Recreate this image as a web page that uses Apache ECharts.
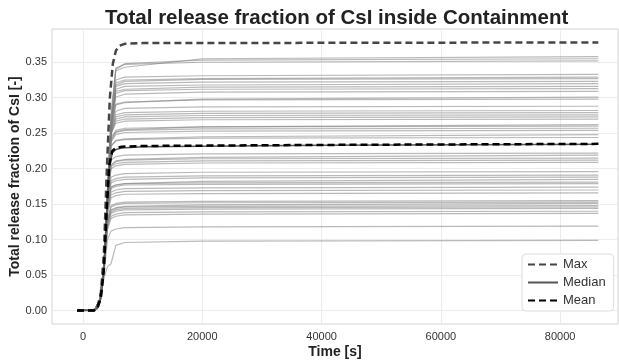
<!DOCTYPE html>
<html>
<head>
<meta charset="utf-8">
<script src="https://cdn.jsdelivr.net/npm/echarts@6/dist/echarts.min.js"></script>
<style>
  html, body { margin: 0; padding: 0; background: #fff; }
  #chart { width: 619px; height: 361px; }
</style>
</head>
<body>
<div id="chart"></div>
<script>
// tick labels
const xTicks = [0, 20000, 40000, 60000, 80000];
const yTicks = [0, 0.05, 0.10, 0.15, 0.20, 0.25, 0.30, 0.35];

// time points for the individual runs (gray)
const runTimes = [-1000, 2000, 2800, 3500, 4100, 4700, 5500, 7000, 20000, 86400];
const runs = [
  [0, .001, .016, .065, .17, .28, .338, .343, .355, .358],
  [0, .001, .015, .062, .165, .27, .34, .348, .353, .355],
  [0, .001, .015, .06, .16, .265, .342, .347, .350, .352],
  [0, .001, .015, .06, .16, .26, .325, .329, .331, .333],
  [0, .001, .014, .058, .155, .255, .321, .325, .327, .329],
  [0, .001, .015, .06, .16, .26, .318, .323, .326, .327],
  [0, .001, .016, .063, .165, .265, .316, .320, .322, .323],
  [0, .001, .014, .058, .155, .255, .312, .316, .318, .320],
  [0, .001, .015, .06, .16, .258, .309, .312, .315, .316],
  [0, .001, .015, .06, .16, .26, .306, .310, .312, .313],
  [0, .001, .014, .057, .152, .25, .301, .305, .308, .309],
  [0, .001, .015, .06, .16, .255, .29, .293, .298, .301],
  [0, .001, .015, .06, .16, .255, .291, .294, .297, .298],
  [0, .001, .015, .06, .16, .255, .281, .285, .287, .288],
  [0, .001, .014, .058, .155, .25, .276, .279, .281, .282],
  [0, .001, .015, .06, .16, .252, .273, .276, .278, .279],
  [0, .001, .015, .06, .158, .25, .27, .273, .275, .276],
  [0, .001, .014, .058, .155, .248, .267, .270, .272, .273],
  [0, .001, .015, .06, .16, .25, .264, .267, .269, .270],
  [0, .001, .015, .06, .16, .245, .252, .255, .259, .262],
  [0, .001, .014, .058, .155, .24, .254, .257, .259, .260],
  [0, .001, .015, .06, .16, .24, .251, .254, .256, .257],
  [0, .001, .015, .06, .158, .238, .248, .251, .253, .254],
  [0, .001, .015, .06, .16, .232, .24, .242, .245, .248],
  [0, .001, .014, .058, .155, .232, .239, .241, .243, .244],
  [0, .001, .015, .06, .16, .212, .217, .219, .221, .222],
  [0, .001, .015, .06, .158, .205, .211, .213, .216, .219],
  [0, .001, .014, .058, .155, .205, .21, .212, .214, .215],
  [0, .001, .015, .06, .157, .203, .207, .209, .211, .212],
  [0, .001, .015, .06, .155, .2, .204, .206, .208, .209],
  [0, .001, .014, .058, .15, .188, .191, .193, .195, .196],
  [0, .001, .015, .06, .15, .183, .186, .188, .190, .191],
  [0, .001, .015, .06, .148, .18, .183, .185, .187, .188],
  [0, .001, .014, .058, .145, .174, .177, .179, .182, .185],
  [0, .001, .015, .06, .145, .174, .177, .179, .180, .181],
  [0, .001, .015, .06, .143, .172, .175, .177, .178, .179],
  [0, .001, .014, .058, .14, .167, .17, .172, .173, .174],
  [0, .001, .015, .06, .138, .163, .166, .168, .169, .170],
  [0, .001, .015, .06, .135, .159, .162, .164, .165, .166],
  [0, .001, .014, .058, .128, .148, .151, .153, .154, .155],
  [0, .001, .015, .06, .127, .146, .149, .151, .152, .153],
  [0, .001, .015, .06, .125, .142, .145, .147, .149, .151],
  [0, .001, .014, .058, .123, .141, .144, .146, .147, .148],
  [0, .001, .015, .06, .122, .139, .142, .144, .145, .146],
  [0, .001, .015, .06, .12, .137, .14, .142, .143, .144],
  [0, .001, .014, .056, .117, .133, .136, .138, .139, .140],
  [0, .001, .014, .056, .114, .13, .133, .135, .136, .137],
  [0, .001, .012, .05, .1, .112, .115, .117, .118, .119],
  [0, .001, .01, .045, .062, .066, .092, .096, .098, .099]
];

// statistics
const maxTimes = [-1000, 1800, 2400, 3000, 3500, 4000, 4500, 5000, 5500, 6000, 7000, 10000, 86400];
const maxVals  = [0, 0, .004, .025, .08, .2, .3, .348, .366, .373, .376, .377, .378];
const statTimes = [-1000, 1800, 2400, 3000, 3500, 4000, 4400, 4900, 5500, 6500, 10000, 40000, 86400];
const meanVals   = [0, 0, .003, .018, .058, .145, .205, .225, .229, .231, .232, .2335, .235];
const medianVals = [0, 0, .003, .017, .056, .14, .2, .222, .227, .229, .231, .233, .2345];

const pair = (ts, vs) => ts.map((t, i) => [t, vs[i]]);
const font = 'Liberation Sans, Arial, sans-serif';

const runSeries = runs.map((r, k) => ({
  name: 'run' + k,
  type: 'line',
  data: pair(runTimes, r),
  symbol: 'none',
  silent: true,
  lineStyle: { color: 'rgba(128,128,128,0.55)', width: 1.2 },
  z: 2
}));

const chart = echarts.init(document.getElementById('chart'));
chart.setOption({
  animation: false,
  title: {
    text: 'Total release fraction of CsI inside Containment',
    left: 100,
    top: 3,
    textStyle: { fontFamily: font, fontSize: 20.5, fontWeight: 'bold', color: '#222' }
  },
  grid: {
    left: 52, right: 1, top: 29, bottom: 37,
    outerBoundsMode: 'none',
    show: true, borderColor: '#d4d4d4', borderWidth: 1
  },
  legend: {
    data: ['Max', 'Median', 'Mean'],
    orient: 'vertical',
    left: 522,
    top: 254,
    itemWidth: 30,
    itemHeight: 14,
    itemGap: 5,
    padding: [4, 8, 4, 5],
    backgroundColor: '#fff',
    borderColor: '#dddddd',
    borderWidth: 1,
    borderRadius: 4,
    itemStyle: { color: 'rgba(0,0,0,0)', borderWidth: 0 },
    textStyle: { fontFamily: font, fontSize: 13, color: '#333' }
  },
  xAxis: {
    type: 'value',
    min: -5200,
    max: 89700,
    name: 'Time [s]',
    nameLocation: 'middle',
    nameGap: 21,
    nameMoveOverlap: false,
    nameTextStyle: { fontFamily: font, fontSize: 14, fontWeight: 'bold', color: '#222' },
    axisLine: { show: false },
    axisTick: { show: false, customValues: xTicks },
    axisLabel: {
      customValues: xTicks, fontFamily: font, fontSize: 11, color: '#333', margin: 7,
      formatter: v => String(v)
    },
    splitLine: { show: true, lineStyle: { color: '#ececec', width: 1 } }
  },
  yAxis: {
    type: 'value',
    min: -0.0189,
    max: 0.3969,
    name: 'Total release fraction of CsI [-]',
    nameLocation: 'middle',
    nameGap: 30,
    nameMoveOverlap: false,
    nameTextStyle: { fontFamily: font, fontSize: 14, fontWeight: 'bold', color: '#222' },
    axisLine: { show: false },
    axisTick: { show: false, customValues: yTicks },
    axisLabel: {
      customValues: yTicks, fontFamily: font, fontSize: 11, color: '#333', margin: 5,
      formatter: v => v.toFixed(2)
    },
    splitLine: { show: true, lineStyle: { color: '#ececec', width: 1 } }
  },
  series: [
    ...runSeries,
    {
      name: 'Median', type: 'line', data: pair(statTimes, medianVals), symbol: 'none',
      lineStyle: { color: '#555555', width: 1.5, type: 'solid' }, itemStyle: { color: '#555555' }, z: 3
    },
    {
      name: 'Max', type: 'line', data: pair(maxTimes, maxVals), symbol: 'none',
      lineStyle: { color: '#454545', width: 2.5, type: [7, 4] }, itemStyle: { color: '#454545' }, z: 4
    },
    {
      name: 'Mean', type: 'line', data: pair(statTimes, meanVals), symbol: 'none',
      lineStyle: { color: '#000000', width: 2.5, type: [7, 4] }, itemStyle: { color: '#000000' }, z: 5
    }
  ]
});
</script>
</body>
</html>
